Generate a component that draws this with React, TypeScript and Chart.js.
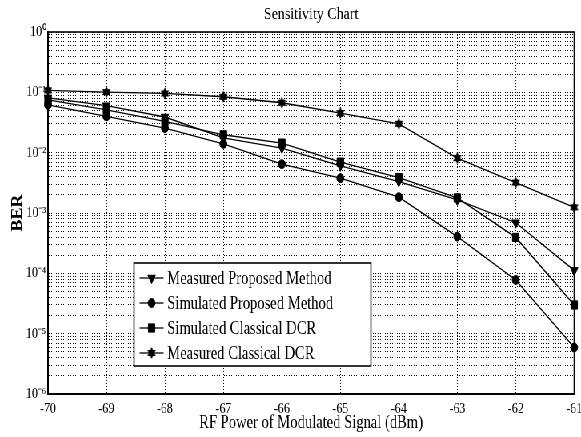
import React, { useEffect, useRef } from 'react';
import { Chart, registerables } from 'chart.js';
import { drawPoint } from 'chart.js/helpers';

Chart.register(...registerables);

// ---- data ----
const xValues = [-70, -69, -68, -67, -66, -65, -64, -63, -62, -61];
const measuredProposed = [0.081, 0.06, 0.039, 0.0176, 0.0119, 0.00605, 0.00332, 0.00165, 0.00069, 0.000112];
const simulatedProposed = [0.062, 0.04, 0.0255, 0.014, 0.00646, 0.00378, 0.00183, 0.000406, 0.0000778, 0.0000059];
const simulatedClassical = [0.075, 0.0514, 0.0329, 0.0198, 0.0144, 0.00697, 0.00387, 0.00178, 0.000394, 0.0000299];
const measuredClassical = [0.108, 0.101, 0.0958, 0.0845, 0.0672, 0.0453, 0.0301, 0.00812, 0.0032, 0.00124];
const seriesLabels = [
  'Measured Proposed Method',
  'Simulated Proposed Method',
  'Simulated Classical DCR',
  'Measured Classical DCR',
];
const yDecadeExponents = [-6, -5, -4, -3, -2, -1, 0];
const yMinorMultipliers = [1, 2, 3, 4, 5, 6, 7, 8, 9];
const titleText = 'Sensitivity Chart';
const xTitle = 'RF Power of Modulated Signal (dBm)';
const yTitle = 'BER';

const SERIF = "'Liberation Serif', 'Times New Roman', serif";
const LOGICAL_W = 726;
const LOGICAL_H = 437;
const SQUEEZE = 581 / LOGICAL_W;

const SUP: Record<string, string> = {
  '-': '\u207B', '0': '\u2070', '1': '\u00B9', '2': '\u00B2', '3': '\u00B3',
  '4': '\u2074', '5': '\u2075', '6': '\u2076', '7': '\u2077', '8': '\u2078', '9': '\u2079',
};
const toSup = (s: string) => s.split('').map((c) => SUP[c] ?? c).join('');

function makeHexagram(r: number): HTMLCanvasElement {
  const c = document.createElement('canvas');
  const size = Math.ceil(r * 2) + 2;
  c.width = size;
  c.height = size;
  const g = c.getContext('2d')!;
  const cx = size / 2;
  const cy = size / 2;
  g.beginPath();
  for (let k = 0; k < 12; k++) {
    const ang = -Math.PI / 2 + (k * Math.PI) / 6;
    const rr = k % 2 === 0 ? r : r * 0.58;
    const px = cx + rr * Math.cos(ang);
    const py = cy + rr * Math.sin(ang);
    if (k === 0) g.moveTo(px, py);
    else g.lineTo(px, py);
  }
  g.closePath();
  g.fillStyle = '#000';
  g.fill();
  return c;
}

const framePlugin = {
  id: 'frame',
  beforeDatasetsDraw(chart: any) {
    const { ctx, chartArea } = chart;
    ctx.save();
    ctx.strokeStyle = '#000';
    ctx.lineWidth = 1.6;
    ctx.strokeRect(chartArea.left, chartArea.top, chartArea.right - chartArea.left, chartArea.bottom - chartArea.top);
    ctx.restore();
  },
};

const boxLegendPlugin = {
  id: 'boxLegend',
  afterDatasetsDraw(chart: any, _args: any, opts: any) {
    const { ctx } = chart;
    const { left, top, width, height, firstRow, rowGap, lineStart, lineEnd, textX, fontSize } = opts;
    ctx.save();
    ctx.fillStyle = '#fff';
    ctx.fillRect(left, top, width, height);
    ctx.strokeStyle = '#000';
    ctx.lineWidth = 1.6;
    ctx.strokeRect(left, top, width, height);
    chart.data.datasets.forEach((ds: any, i: number) => {
      const cy = top + firstRow + rowGap * i;
      ctx.strokeStyle = '#000';
      ctx.lineWidth = ds.borderWidth;
      ctx.beginPath();
      ctx.moveTo(left + lineStart, cy);
      ctx.lineTo(left + lineEnd, cy);
      ctx.stroke();
      ctx.fillStyle = '#000';
      ctx.lineWidth = ds.pointBorderWidth;
      drawPoint(
        ctx,
        { pointStyle: ds.pointStyle, rotation: ds.pointRotation || 0, radius: ds.pointRadius, borderWidth: ds.pointBorderWidth },
        left + (lineStart + lineEnd) / 2,
        cy
      );
      ctx.fillStyle = '#000';
      ctx.font = `${fontSize}px ${SERIF}`;
      ctx.textAlign = 'left';
      ctx.textBaseline = 'middle';
      ctx.fillText(ds.label, left + textX, cy + 1);
    });
    ctx.restore();
  },
};

export default function App() {
  const canvasRef = useRef<HTMLCanvasElement | null>(null);

  useEffect(() => {
    if (!canvasRef.current) return;
    const star = makeHexagram(6);
    const mk = (label: string, values: number[], style: any, radius: number, rotation = 0) => ({
      label,
      data: xValues.map((x, i) => ({ x, y: values[i] })),
      borderColor: '#000',
      backgroundColor: '#000',
      borderWidth: 1.3,
      pointStyle: style,
      pointRadius: radius,
      pointRotation: rotation,
      pointBackgroundColor: '#000',
      pointBorderColor: '#000',
      pointBorderWidth: 1,
      tension: 0,
      fill: false,
      clip: false as any,
    });

    const chart = new Chart(canvasRef.current, {
      type: 'line',
      data: {
        datasets: [
          mk(seriesLabels[0], measuredProposed, 'triangle', 5.5, 180),
          mk(seriesLabels[1], simulatedProposed, 'circle', 4.4),
          mk(seriesLabels[2], simulatedClassical, 'rect', 5.8),
          mk(seriesLabels[3], measuredClassical, star, 6),
        ] as any,
      },
      options: {
        animation: false,
        responsive: true,
        maintainAspectRatio: false,
        layout: { padding: { left: 0, right: 8.5, top: 0, bottom: 0 } },
        plugins: {
          legend: { display: false },
          tooltip: { enabled: false },
          title: {
            display: true,
            text: titleText,
            fullSize: false,
            color: '#000',
            font: { family: SERIF, size: 17.5, weight: 'normal' },
            padding: { top: 4, bottom: 7 },
          },
          boxLegend: {
            left: 167.5,
            top: 263,
            width: 296,
            height: 103,
            firstRow: 15,
            rowGap: 25,
            lineStart: 7,
            lineEnd: 37,
            textX: 41.5,
            fontSize: 18.2,
          },
        } as any,
        scales: {
          x: {
            type: 'linear',
            min: -70,
            max: -61,
            ticks: {
              stepSize: 1,
              autoSkip: false,
              maxRotation: 0,
              padding: 6,
              color: '#000',
              font: { family: SERIF, size: 15 },
            },
            grid: { color: '#000', lineWidth: 1, drawTicks: false },
            border: { display: true, color: '#000', width: 2, dash: [1, 2] },
            title: {
              display: true,
              text: xTitle,
              color: '#000',
              font: { family: SERIF, size: 18.2 },
              padding: { top: 0, bottom: 3 },
            },
            afterFit: (s: any) => {
              s.height = 43;
              s.paddingLeft = 0;
              s.paddingRight = 0;
            },
          },
          y: {
            type: 'logarithmic',
            min: 1e-6,
            max: 1,
            afterBuildTicks: (s: any) => {
              const t: { value: number }[] = [];
              yDecadeExponents.forEach((e) => {
                if (e === 0) {
                  t.push({ value: 1 });
                } else {
                  yMinorMultipliers.forEach((m) => t.push({ value: m * Math.pow(10, e) }));
                }
              });
              s.ticks = t;
            },
            ticks: {
              autoSkip: false,
              padding: 2.5,
              color: '#000',
              font: { family: SERIF, size: 15 },
              callback: (v: any) => {
                const lg = Math.log10(Number(v));
                const r = Math.round(lg);
                if (Math.abs(lg - r) < 1e-6) return '10' + toSup(String(r));
                return '';
              },
            },
            grid: { color: '#000', lineWidth: 1, drawTicks: false },
            border: { display: true, color: '#000', width: 2, dash: [1, 2] },
            title: {
              display: true,
              text: yTitle,
              color: '#000',
              font: { family: SERIF, size: 18, weight: 'bold' },
              padding: { top: 11.2, bottom: 0 },
            },
            afterFit: (s: any) => {
              s.width = 60;
              s.paddingTop = 0;
              s.paddingBottom = 0;
            },
          },
        },
      },
      plugins: [framePlugin, boxLegendPlugin],
    });
    return () => chart.destroy();
  }, []);

  return (
    <div
      style={{
        position: 'fixed',
        left: 0,
        top: 0,
        width: LOGICAL_W,
        height: LOGICAL_H,
        transform: `scaleX(${SQUEEZE})`,
        transformOrigin: '0 0',
        background: '#fff',
      }}
    >
      <canvas ref={canvasRef} />
    </div>
  );
}
